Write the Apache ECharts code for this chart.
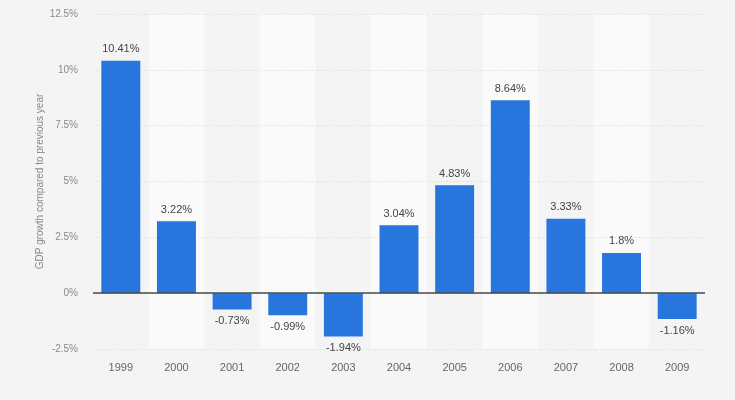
<!DOCTYPE html>
<html>
<head>
<meta charset="utf-8">
<script src="https://cdn.jsdelivr.net/npm/echarts@6/dist/echarts.min.js"></script>
<style>
html,body{margin:0;padding:0;background:#f4f4f4;}
#chart{width:735px;height:400px;}
</style>
</head>
<body>
<div id="chart"></div>
<script>
const categories = ['1999','2000','2001','2002','2003','2004','2005','2006','2007','2008','2009'];
const growthValues = [10.41, 3.22, -0.73, -0.99, -1.94, 3.04, 4.83, 8.64, 3.33, 1.8, -1.16];
const yTickLabels = ['-2.5%','0%','2.5%','5%','7.5%','10%','12.5%'];

const chart = echarts.init(document.getElementById('chart'), null, {renderer:'canvas'});
const font = '"Liberation Sans", Arial, sans-serif';
chart.setOption({
  backgroundColor: '#f4f4f4',
  animation: false,
  grid: {left: 93, right: 30, top: 14, bottom: 51},
  xAxis: {
    type: 'category',
    data: categories,
    z: 0,
    axisLine: {show: false},
    axisTick: {show: false},
    axisLabel: {color: '#666', fontSize: 11, fontFamily: font, margin: 13},
    splitArea: {show: true, areaStyle: {color: ['#f4f4f4', '#fafafa']}}
  },
  yAxis: {
    type: 'value',
    min: -2.5, max: 12.5, interval: 2.5,
    z: 1,
    name: 'GDP growth compared to previous year',
    nameLocation: 'middle',
    nameGap: 48,
    nameMoveOverlap: false,
    nameTextStyle: {color: '#888', fontSize: 10, fontFamily: font},
    axisLine: {show: false},
    axisTick: {show: false},
    axisLabel: {
      color: '#8a8a8a', fontSize: 10, fontFamily: font, margin: 15,
      formatter: function (v) {
        const idx = Math.round((v + 2.5) / 2.5);
        return yTickLabels[idx] !== undefined ? yTickLabels[idx] : '';
      }
    },
    splitLine: {lineStyle: {color: '#d8d8d8', type: [1, 2], width: 1}}
  },
  series: [{
    type: 'bar',
    barWidth: '70%',
    z: 2,
    data: growthValues.map(function (v) {
      return {value: v, label: {position: v < 0 ? 'bottom' : 'top'}};
    }),
    itemStyle: {color: '#2876dd'},
    label: {
      show: true,
      distance: 6,
      color: '#444',
      fontSize: 11,
      fontFamily: font,
      formatter: function (p) { return p.value + '%'; }
    },
    markLine: {
      silent: true,
      symbol: 'none',
      label: {show: false},
      lineStyle: {color: '#4a4a4a', type: 'solid', width: 1.5},
      data: [{yAxis: 0}]
    }
  }]
});
</script>
</body>
</html>
